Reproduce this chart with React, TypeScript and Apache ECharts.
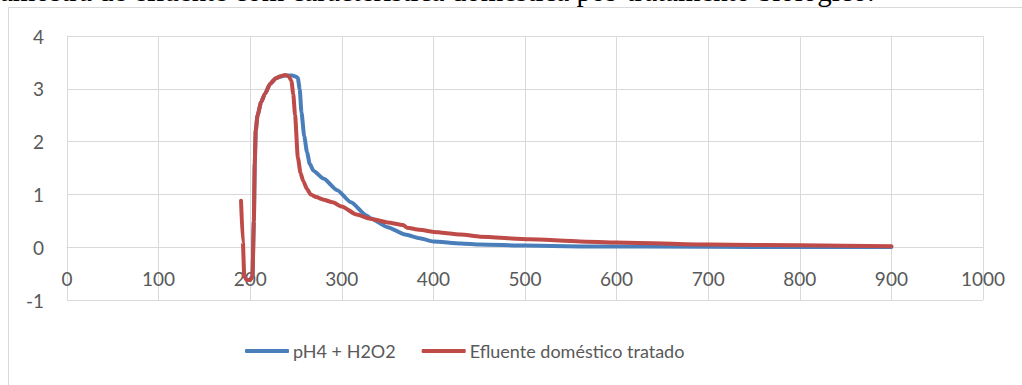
import React, { useEffect, useRef } from "react";
import * as echarts from "echarts";

const headerText = "amostra de efluente com característica doméstica pós-tratamento biológico.";
const seriesNames = ["pH4 + H2O2", "Efluente doméstico tratado"];
const xTicks = [0, 100, 200, 300, 400, 500, 600, 700, 800, 900, 1000];
const yTicks = [-1, 0, 1, 2, 3, 4];

const bluePoints: [number, number][] = [
  [200, -0.62], [202.5, -0.55], [204, 0.5], [205, 1.6], [206, 2.2], [208, 2.5],
  [212, 2.75], [216, 2.9], [222, 3.1], [228, 3.2], [233, 3.23], [238, 3.25],
  [242, 3.25], [246, 3.25], [250, 3.23], [252, 3.2], [254, 3.0], [256, 2.55],
  [259, 2.1], [262, 1.8], [265, 1.58], [269, 1.45], [280, 1.3], [295, 1.08],
  [310, 0.85], [327, 0.6], [331, 0.55], [350, 0.38], [369, 0.24], [385, 0.17],
  [400, 0.11], [430, 0.07], [451, 0.05], [500, 0.03], [560, 0.015], [700, 0.007],
  [800, 0.004], [900, 0.002],
];

const redPoints: [number, number][] = [
  [190, 0.88], [192, 0.1], [193.5, -0.55], [196, -0.62], [200, -0.62], [202.5, -0.55],
  [204, 0.5], [205, 1.6], [206, 2.2], [208, 2.5], [212, 2.75], [216, 2.9],
  [222, 3.1], [228, 3.2], [233, 3.24], [238, 3.26], [242, 3.24], [245, 3.15],
  [247, 2.9], [249, 2.5], [252, 1.7], [255, 1.4], [258, 1.25], [262, 1.1],
  [266, 1.0], [272, 0.95], [280, 0.9], [290, 0.85], [300, 0.77], [316, 0.62],
  [331, 0.54], [350, 0.47], [367, 0.42], [371, 0.37], [385, 0.33], [400, 0.29],
  [430, 0.24], [451, 0.2], [505, 0.15], [560, 0.11], [600, 0.09], [700, 0.05],
  [800, 0.035], [900, 0.02],
];

const FONT = "Lato";
const GRID_COLOR = "#d9d9d9";
const TEXT_COLOR = "#595959";
const GRID_TOP = 36;
const GRID_BOTTOM = 85;
const CHART_H = 385;

export default function App() {
  const ref = useRef<HTMLDivElement>(null);
  useEffect(() => {
    if (!ref.current) return;
    const chart = echarts.init(ref.current, undefined, { renderer: "svg" });
    const yMin = yTicks[0];
    const yMax = yTicks[yTicks.length - 1];
    const plotH = CHART_H - GRID_TOP - GRID_BOTTOM;
    // shift x axis up so it crosses the y axis at value 0
    const zeroOffset = -((0 - yMin) / (yMax - yMin)) * plotH;
    chart.setOption({
      animation: false,
      backgroundColor: "#ffffff",
      textStyle: { fontFamily: FONT },
      graphic: [
        {
          type: "rect",
          shape: { x: 8.5, y: 7.5, width: 1200, height: 600 },
          style: { fill: "none", stroke: GRID_COLOR, lineWidth: 1 },
          silent: true,
        },
        {
          type: "text",
          x: 0,
          y: -9,
          style: {
            text: headerText,
            font: '29px "Liberation Serif"',
            fill: "#000000",
            verticalAlign: "middle",
          },
          silent: true,
        },
      ],
      grid: { left: 67, right: 39, top: GRID_TOP, bottom: GRID_BOTTOM, containLabel: false },
      legend: {
        left: 240,
        top: 337,
        icon: "roundRect",
        itemWidth: 44,
        itemHeight: 4,
        itemGap: 26,
        textStyle: { color: TEXT_COLOR, fontSize: 18, fontFamily: FONT, padding: [0, 0, 0, -1] },
        data: seriesNames,
      },
      xAxis: {
        type: "value",
        min: xTicks[0],
        max: xTicks[xTicks.length - 1],
        interval: 100,
        offset: zeroOffset,
        axisLine: { show: true, onZero: false, lineStyle: { color: GRID_COLOR, width: 1 } },
        axisTick: { show: false },
        axisLabel: {
          color: TEXT_COLOR,
          fontSize: 19,
          fontFamily: FONT,
          margin: 22,
          formatter: (v: number) => String(v),
        },
        splitLine: { show: true, lineStyle: { color: GRID_COLOR, width: 1 } },
      },
      yAxis: {
        type: "value",
        min: yMin,
        max: yMax,
        interval: 1,
        axisLine: { show: true, onZero: false, lineStyle: { color: GRID_COLOR, width: 1 } },
        axisTick: { show: false },
        axisLabel: { color: TEXT_COLOR, fontSize: 19, fontFamily: FONT, margin: 23 },
        splitLine: { show: true, lineStyle: { color: GRID_COLOR, width: 1 } },
      },
      series: [
        {
          name: seriesNames[0],
          type: "line",
          data: bluePoints,
          showSymbol: false,
          smooth: 0.2,
          smoothMonotone: "x",
          lineStyle: { color: "#4a7ebb", width: 4, cap: "round", join: "round" },
          itemStyle: { color: "#4a7ebb" },
          z: 2,
        },
        {
          name: seriesNames[1],
          type: "line",
          data: redPoints,
          showSymbol: false,
          smooth: 0.2,
          smoothMonotone: "x",
          lineStyle: { color: "#be4b48", width: 4, cap: "round", join: "round" },
          itemStyle: { color: "#be4b48" },
          z: 3,
        },
      ],
    });
    return () => chart.dispose();
  }, []);
  return (
    <div
      ref={ref}
      style={{ position: "fixed", left: 0, top: 0, width: 1022, height: 385 }}
    />
  );
}
